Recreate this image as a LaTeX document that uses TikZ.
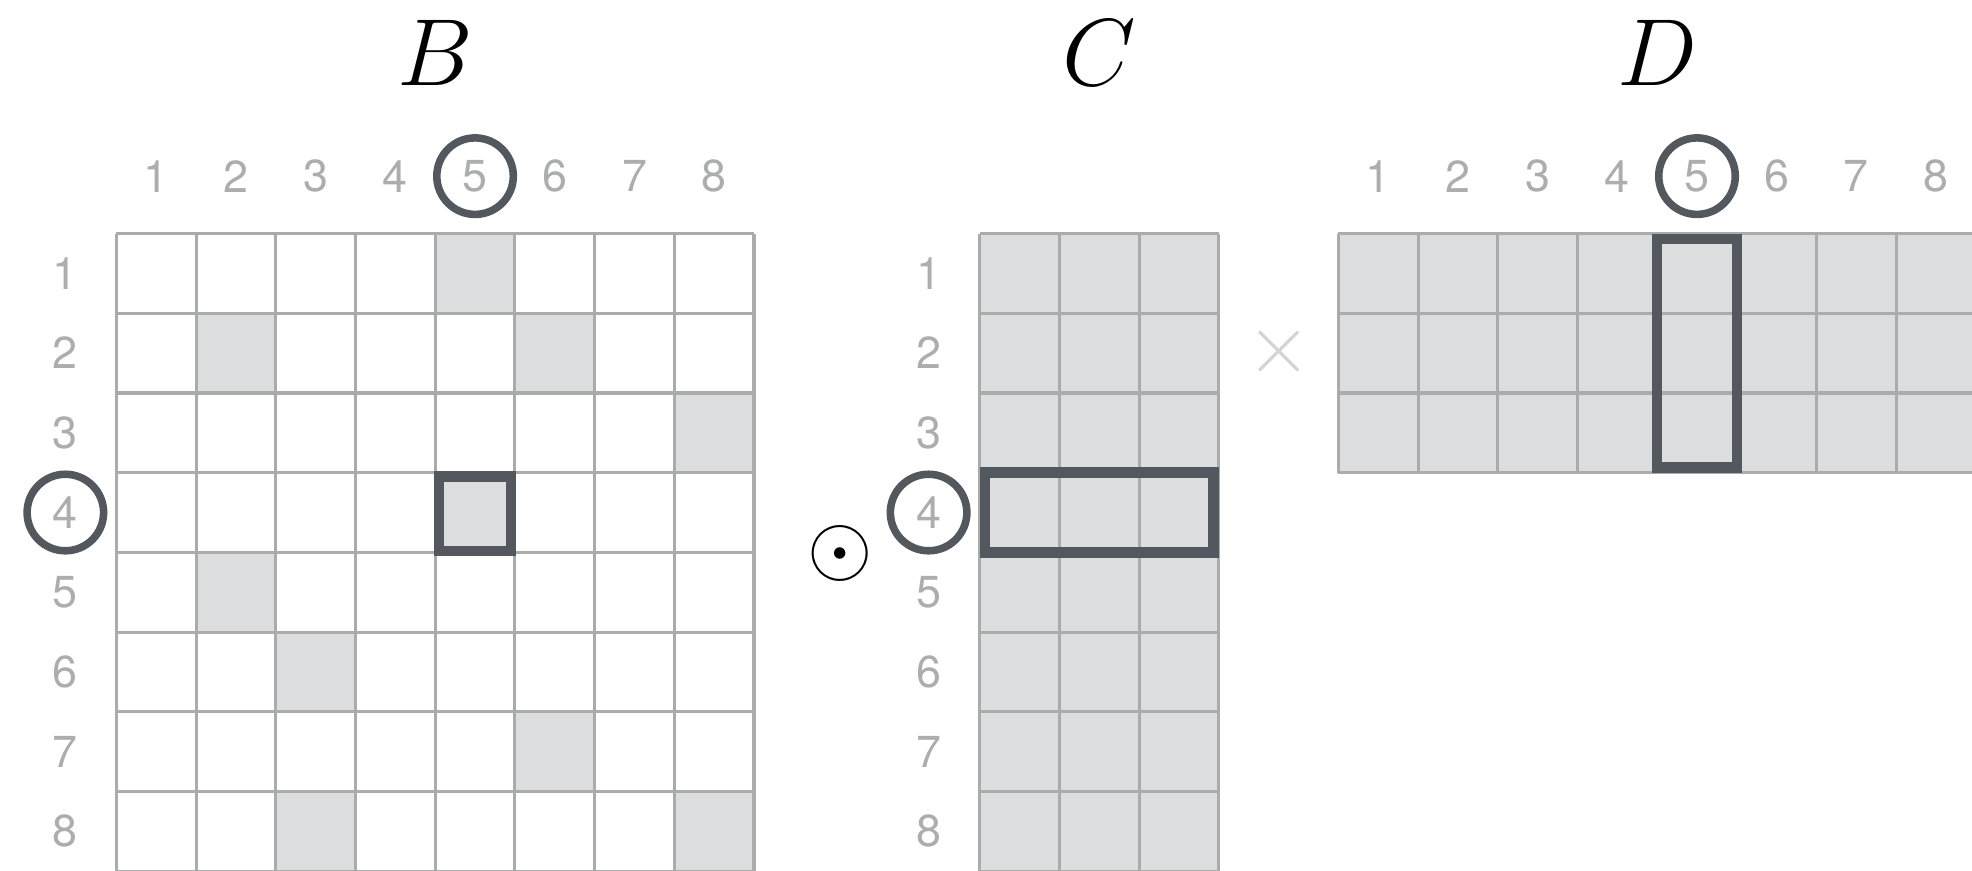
\documentclass[tikz,border=0pt]{standalone}
\usepackage{fix-cm}
\usepackage{fontspec}
\setsansfont{TeX Gyre Heros}
\usetikzlibrary{positioning}
\definecolor{gridline}{RGB}{170,172,172}
\definecolor{cellfill}{RGB}{220,221,223}
\definecolor{slate}{RGB}{83,87,94}
\definecolor{digit}{RGB}{172,174,174}
\definecolor{crossgray}{RGB}{212,212,212}

\begin{document}
\begin{tikzpicture}[
  idx/.style={font=\sffamily\fontsize{16}{19}\selectfont, text=digit, inner sep=0pt},
  ttl/.style={font=\fontsize{34}{40}\selectfont, inner sep=0pt},
  thin/.style={draw=gridline, line width=1.1pt},
  ring/.style={draw=slate, line width=2.7pt},
  pick/.style={draw=slate, line width=3.7pt},
  op/.style={inner sep=0pt}]

\useasboundingbox (-1.46,-7.99) rectangle (23.28,2.93);

% ---------- B: sparse 8x8 ----------
\node[ttl] (B) at (4,2.26) {$B$};
\foreach \r/\c in {1/5,2/2,2/6,3/8,4/5,5/2,6/3,7/6,8/3,8/8}
  \fill[cellfill] (\c-1,1-\r) rectangle (\c,-\r);
\draw[thin] (0,-8) grid (8,0);
\foreach \i in {1,...,8} {
  \node[idx] (bc\i) at (\i-0.5,0.72) {\i};
  \node[idx] (br\i) at (-0.64,0.5-\i) {\i};
}
\draw[ring] (bc5.center) circle[radius=0.48];
\draw[ring] (br4.center) circle[radius=0.48];
\draw[pick] (4.05,-3.05) rectangle (4.95,-3.98);

% ---------- odot ----------
\node[op] (odot) at (9.08,-4.02) {\fontsize{30}{36}\selectfont$\odot$};

% ---------- C: dense 8x3 ----------
\begin{scope}[xshift=10.83cm]
\node[ttl] (C) at (1.5,2.26) {$C$};
\fill[cellfill] (0,-8) rectangle (3,0);
\draw[thin] (0,-8) grid (3,0);
\foreach \i in {1,...,8}
  \node[idx] (cr\i) at (-0.64,0.5-\i) {\i};
\draw[ring] (cr4.center) circle[radius=0.48];
\draw[pick] (0.065,-3) rectangle (2.935,-4);
\end{scope}

% ---------- times ----------
\node[op, text=crossgray] (times) at (14.59,-1.48) {\fontsize{30}{36}\selectfont$\times$};

% ---------- D: dense 3x8 ----------
\begin{scope}[xshift=15.33cm]
\node[ttl] (D) at (4,2.26) {$D$};
\fill[cellfill] (0,-3) rectangle (8,0);
\draw[thin] (0,-3) grid (8,0);
\foreach \i in {1,...,8}
  \node[idx] (dc\i) at (\i-0.5,0.72) {\i};
\draw[ring] (dc5.center) circle[radius=0.48];
\draw[pick] (4,-0.065) rectangle (5,-2.935);
\end{scope}
\end{tikzpicture}
\end{document}
